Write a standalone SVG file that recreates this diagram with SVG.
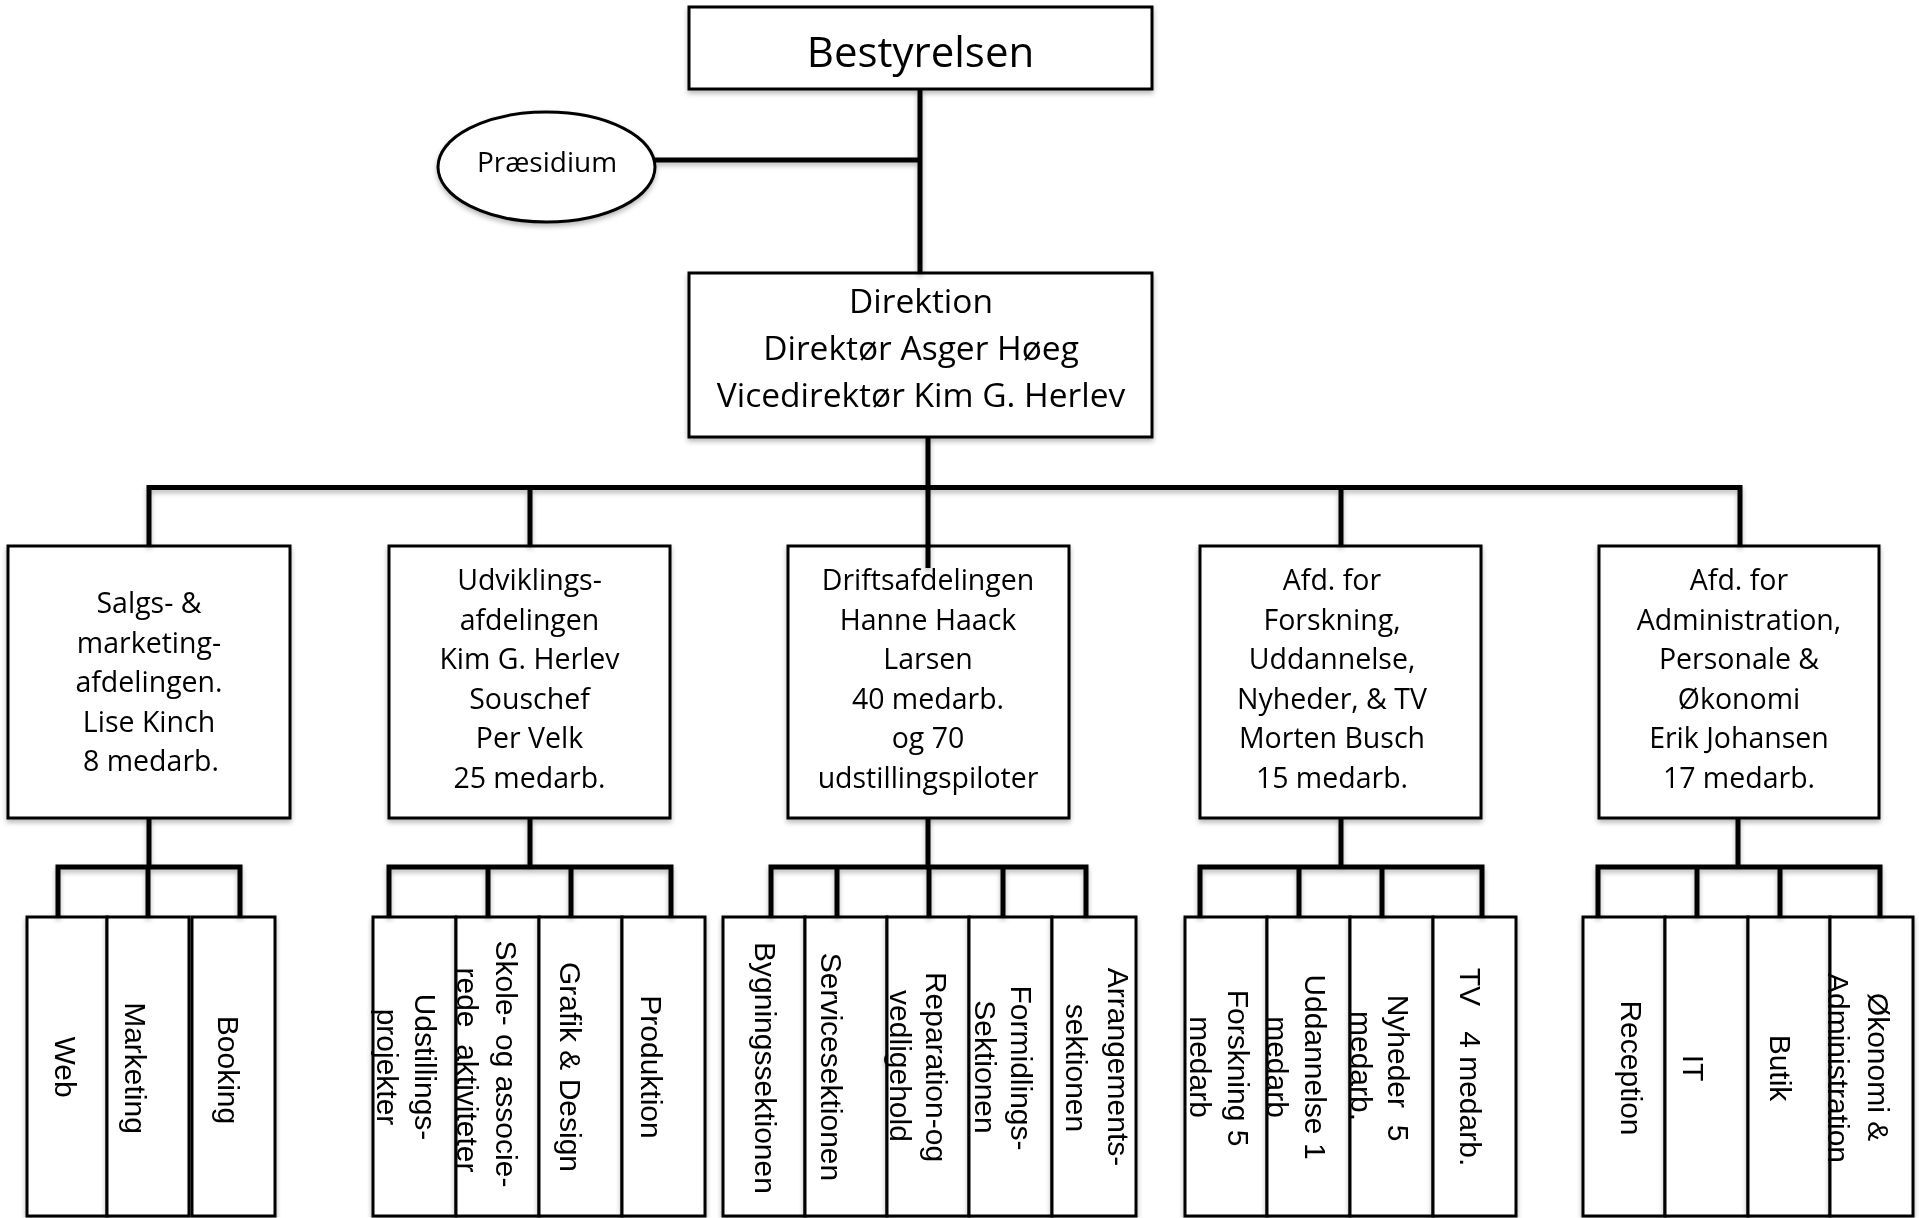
<svg xmlns="http://www.w3.org/2000/svg" width="1919" height="1218" viewBox="0 0 1919 1218">
<defs>
<filter id="sh" x="-10%" y="-10%" width="120%" height="130%">
<feDropShadow dx="0" dy="3" stdDeviation="2.5" flood-color="#000" flood-opacity="0.28"/>
</filter>
<style>
.box{fill:#fff;stroke:#000;stroke-width:3}
.ln{fill:none;stroke:#000;stroke-width:5;stroke-linejoin:miter;stroke-linecap:butt}
.h{font-family:"Open Sans","Liberation Sans",sans-serif;fill:#000;text-anchor:middle}
.t1{font-size:42px}
.t2{font-size:33.5px}
.t3{font-size:28.5px}
.tp{font-size:28px}
.v{font-family:"Liberation Sans",Arial,sans-serif;font-size:30px;fill:#000;text-anchor:middle}
</style>
</defs>
<rect width="1919" height="1218" fill="#fff"/>

<g id="bestyrelsen" filter="url(#sh)">
<rect class="box" x="689" y="7" width="463" height="82"/>
<text class="h t1" x="920.5" y="67">Bestyrelsen</text>
</g>
<g id="praesidium" filter="url(#sh)">
<ellipse cx="546.5" cy="167" rx="108.5" ry="55" fill="#fff" stroke="#000" stroke-width="3"/>
<text class="h tp" x="547" y="172">Præsidium</text>
</g>
<g id="direktion" filter="url(#sh)">
<rect class="box" x="689" y="273" width="463" height="164"/>
<text class="h t2" x="921" y="313">Direktion</text>
<text class="h t2" x="921" y="360">Direktør Asger Høeg</text>
<text class="h t2" x="921" y="407">Vicedirektør Kim G. Herlev</text>
</g>

<g id="salg" filter="url(#sh)">
<rect class="box" x="8" y="546" width="282" height="272"/>
<text class="h t3" x="149" y="613">Salgs- &amp;</text>
<text class="h t3" x="149" y="652.5">marketing-</text>
<text class="h t3" x="149" y="692">afdelingen.</text>
<text class="h t3" x="149" y="731.5">Lise Kinch</text>
<text class="h t3" x="151" y="771">8 medarb.</text>
</g>
<g id="udvikling" filter="url(#sh)">
<rect class="box" x="389" y="546" width="281" height="272"/>
<text class="h t3" x="529.5" y="590">Udviklings-</text>
<text class="h t3" x="529.5" y="629.5">afdelingen</text>
<text class="h t3" x="529.5" y="669">Kim G. Herlev</text>
<text class="h t3" x="529.5" y="708.5">Souschef</text>
<text class="h t3" x="529.5" y="748">Per Velk</text>
<text class="h t3" x="529.5" y="787.5">25 medarb.</text>
</g>
<g id="drift" filter="url(#sh)">
<rect class="box" x="788" y="546" width="281" height="272"/>
<text class="h t3" x="928" y="590">Driftsafdelingen</text>
<text class="h t3" x="928" y="629.5">Hanne Haack</text>
<text class="h t3" x="928" y="669">Larsen</text>
<text class="h t3" x="928" y="708.5">40 medarb.</text>
<text class="h t3" x="928" y="748">og 70</text>
<text class="h t3" x="928" y="787.5">udstillingspiloter</text>
</g>
<g id="forskning" filter="url(#sh)">
<rect class="box" x="1200" y="546" width="281" height="272"/>
<text class="h t3" x="1332" y="590">Afd. for</text>
<text class="h t3" x="1332" y="629.5">Forskning,</text>
<text class="h t3" x="1332" y="669">Uddannelse,</text>
<text class="h t3" x="1332" y="708.5">Nyheder, &amp; TV</text>
<text class="h t3" x="1332" y="748">Morten Busch</text>
<text class="h t3" x="1332" y="787.5">15 medarb.</text>
</g>
<g id="administration" filter="url(#sh)">
<rect class="box" x="1599" y="546" width="280" height="272"/>
<text class="h t3" x="1739" y="590">Afd. for</text>
<text class="h t3" x="1739" y="629.5">Administration,</text>
<text class="h t3" x="1739" y="669">Personale &amp;</text>
<text class="h t3" x="1739" y="708.5">Økonomi</text>
<text class="h t3" x="1739" y="748">Erik Johansen</text>
<text class="h t3" x="1739" y="787.5">17 medarb.</text>
</g>

<g id="web" filter="url(#sh)"><rect class="box" x="27" y="917" width="80" height="299"/>
<text class="v" transform="translate(55,1067) rotate(90)">Web</text></g>
<g id="marketing" filter="url(#sh)"><rect class="box" x="107" y="917" width="82" height="299"/>
<text class="v" transform="translate(125,1068) rotate(90)">Marketing</text></g>
<g id="booking" filter="url(#sh)"><rect class="box" x="192" y="917" width="83" height="299"/>
<text class="v" transform="translate(218,1070) rotate(90)">Booking</text></g>

<g id="udstilling" filter="url(#sh)"><rect class="box" x="373" y="917" width="83" height="299"/>
<text class="v" transform="translate(415,1067) rotate(90)">Udstillings-</text>
<text class="v" transform="translate(377,1067) rotate(90)">projekter</text></g>
<g id="skole" filter="url(#sh)"><rect class="box" x="456" y="917" width="83" height="299"/>
<text class="v" transform="translate(496,1064) rotate(90)">Skole- og associe-</text>
<text class="v" xml:space="preserve" transform="translate(457,1070) rotate(90)">rede  aktiviteter</text></g>
<g id="grafik" filter="url(#sh)"><rect class="box" x="539" y="917" width="83" height="299"/>
<text class="v" transform="translate(560,1067) rotate(90)">Grafik &amp; Design</text></g>
<g id="produktion" filter="url(#sh)"><rect class="box" x="622" y="917" width="83" height="299"/>
<text class="v" transform="translate(641,1067) rotate(90)">Produktion</text></g>

<g id="bygning" filter="url(#sh)"><rect class="box" x="723" y="917" width="82" height="299"/>
<text class="v" transform="translate(755,1068) rotate(90)">Bygningssektionen</text></g>
<g id="service" filter="url(#sh)"><rect class="box" x="805" y="917" width="82" height="299"/>
<text class="v" transform="translate(821,1067) rotate(90)">Servicesektionen</text></g>
<g id="reparation" filter="url(#sh)"><rect class="box" x="887" y="917" width="82" height="299"/>
<text class="v" transform="translate(926,1067) rotate(90)">Reparation-og</text>
<text class="v" transform="translate(890,1066) rotate(90)">vedligehold</text></g>
<g id="formidling" filter="url(#sh)"><rect class="box" x="969" y="917" width="83" height="299"/>
<text class="v" transform="translate(1011,1068) rotate(90)">Formidlings-</text>
<text class="v" transform="translate(975,1067) rotate(90)">Sektionen</text></g>
<g id="arrangement" filter="url(#sh)"><rect class="box" x="1052" y="917" width="84" height="299"/>
<text class="v" transform="translate(1108,1067) rotate(90)">Arrangements-</text>
<text class="v" transform="translate(1066,1068) rotate(90)">sektionen</text></g>

<g id="forskning-sub" filter="url(#sh)"><rect class="box" x="1185" y="917" width="82" height="299"/>
<text class="v" transform="translate(1228,1068) rotate(90)">Forskning 5</text>
<text class="v" transform="translate(1190,1067) rotate(90)">medarb</text></g>
<g id="uddannelse" filter="url(#sh)"><rect class="box" x="1267" y="917" width="83" height="299"/>
<text class="v" transform="translate(1305,1067) rotate(90)">Uddannelse 1</text>
<text class="v" transform="translate(1267,1067) rotate(90)">medarb</text></g>
<g id="nyheder" filter="url(#sh)"><rect class="box" x="1350" y="917" width="83" height="299"/>
<text class="v" xml:space="preserve" transform="translate(1388,1068) rotate(90)">Nyheder  5</text>
<text class="v" transform="translate(1351,1066) rotate(90)">medarb.</text></g>
<g id="tv" filter="url(#sh)"><rect class="box" x="1433" y="917" width="83" height="299"/>
<text class="v" xml:space="preserve" transform="translate(1460,1067) rotate(90)">TV   4 medarb.</text></g>

<g id="reception" filter="url(#sh)"><rect class="box" x="1583" y="917" width="82" height="299"/>
<text class="v" transform="translate(1621,1068) rotate(90)">Reception</text></g>
<g id="it" filter="url(#sh)"><rect class="box" x="1665" y="917" width="83" height="299"/>
<text class="v" transform="translate(1683,1068) rotate(90)">IT</text></g>
<g id="butik" filter="url(#sh)"><rect class="box" x="1748" y="917" width="82" height="299"/>
<text class="v" transform="translate(1770,1068) rotate(90)">Butik</text></g>
<g id="oekonomi" filter="url(#sh)"><rect class="box" x="1830" y="917" width="83" height="299"/>
<text class="v" transform="translate(1868,1067) rotate(90)">Økonomi &amp;</text>
<text class="v" transform="translate(1828,1068) rotate(90)">Administration</text></g>

<g id="connectors" filter="url(#sh)">
<path class="ln" d="M920,89 V273"/>
<path class="ln" d="M655,160 H920"/>
<path class="ln" d="M928,437 V568"/>
<path class="ln" d="M149,546 V487.5 H1740 V546"/>
<path class="ln" d="M530,487.5 V546"/>
<path class="ln" d="M1341,487.5 V546"/>
<path class="ln" d="M149,818 V867"/>
<path class="ln" d="M58,917 V867 H240 V917"/>
<path class="ln" d="M148,867 V917"/>
<path class="ln" d="M530,818 V867"/>
<path class="ln" d="M389,917 V867 H671 V917"/>
<path class="ln" d="M488,867 V917 M571,867 V917"/>
<path class="ln" d="M928,818 V867"/>
<path class="ln" d="M771,917 V867 H1086 V917"/>
<path class="ln" d="M837,867 V917 M929,867 V917 M1003,867 V917"/>
<path class="ln" d="M1341,818 V867"/>
<path class="ln" d="M1200,917 V867 H1482 V917"/>
<path class="ln" d="M1299,867 V917 M1382,867 V917"/>
<path class="ln" d="M1738,818 V867"/>
<path class="ln" d="M1598,917 V867 H1880 V917"/>
<path class="ln" d="M1697,867 V917 M1780,867 V917"/>
</g>
</svg>
